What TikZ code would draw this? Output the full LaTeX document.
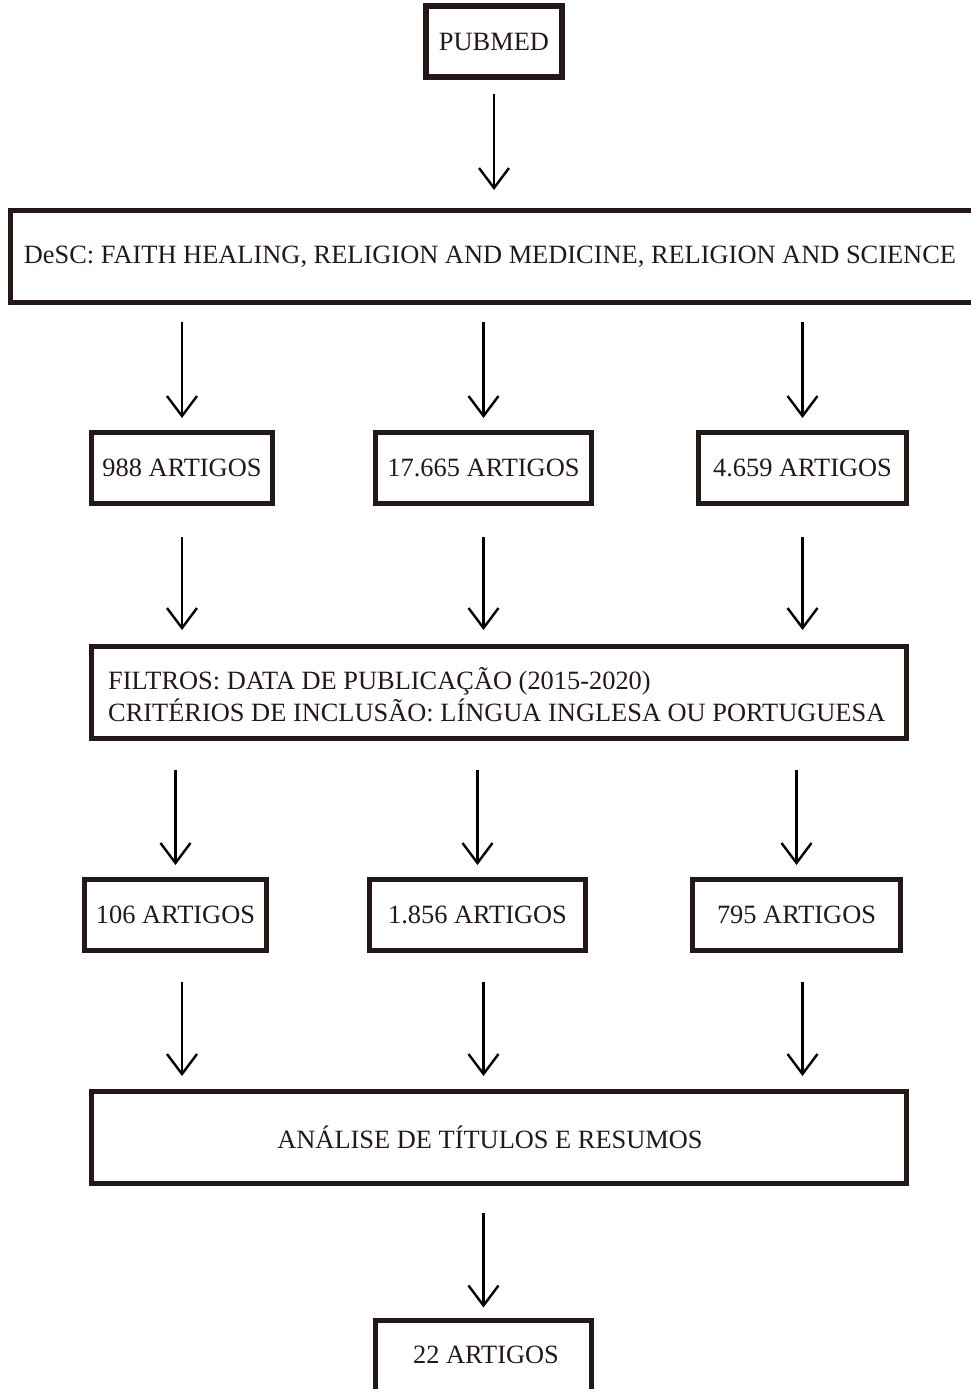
\documentclass[tikz,border=0pt]{standalone}
\usepackage{fontspec}
\setmainfont{Liberation Serif}
\usetikzlibrary{arrows.meta,calc}
\definecolor{inkbrown}{HTML}{231815}
\tikzset{
  label/.style={text=inkbrown, inner sep=0pt, font=\fontsize{26.4}{32}\selectfont},
  box/.style={label, draw=inkbrown, line width=5pt, align=center},
  flow/.style={-{Straight Barb[length=20pt,width=30pt,line width=2.4pt]}, line width=2.4pt},
}

\begin{document}
\begin{tikzpicture}[x=1pt,y=-1pt]
  \useasboundingbox (0,0) rectangle (971,1389);
  % source and search terms
  \node[box, line width=6pt, minimum width=136pt, minimum height=71pt] (pubmed) at (494,41.5) {PUBMED};
  \node[box, minimum width=968pt, minimum height=92pt] (desc) at (494,256.5) {};
  \node[label] (desctxt) at (490,257)
    {DeSC: FAITH HEALING, RELIGION AND MEDICINE, RELIGION AND SCIENCE};
  % first counts
  \node[box, minimum width=181pt, minimum height=71pt] (a988) at (182,468) {988 ARTIGOS};
  \node[box, minimum width=216pt, minimum height=71pt] (a17665) at (483.5,468) {17.665 ARTIGOS};
  \node[box, minimum width=208pt, minimum height=71pt] (a4659) at (802.5,468) {4.659 ARTIGOS};
  % filters
  \node[box, minimum width=815pt, minimum height=92pt] (filtros) at (499,692.5) {};
  \node[label, align=left, anchor=west] (filtrostxt) at (108,695)
    {FILTROS: DATA DE PUBLICAÇÃO (2015-2020)\\CRITÉRIOS DE INCLUSÃO: LÍNGUA INGLESA OU PORTUGUESA};
  % second counts
  \node[box, minimum width=182pt, minimum height=71pt] (a106) at (175.5,915) {106 ARTIGOS};
  \node[box, minimum width=216pt, minimum height=71pt] (a1856) at (477.5,915) {1.856 ARTIGOS};
  \node[box, minimum width=208pt, minimum height=71pt] (a795) at (796.5,915) {795 ARTIGOS};
  % screening and result
  \node[box, minimum width=815pt, minimum height=92pt] (analise) at (499,1137.5) {};
  \node[label] (analisetxt) at (490,1137) {ANÁLISE DE TÍTULOS E RESUMOS};
  \node[box, minimum width=216pt, minimum height=100pt] (final) at (483.5,1370) {};
  \node[label] (finaltxt) at (486,1355) {22 ARTIGOS};
  % arrows
  \draw[flow, shorten <=14pt, shorten >=18pt] (pubmed) -- (pubmed |- desc.north);
  \foreach \n in {a988,a17665,a4659}{
    \draw[flow, shorten <=17pt, shorten >=12pt] (\n |- desc.south) -- (\n.north);
    \draw[flow, shorten <=31pt, shorten >=14pt] (\n.south) -- (\n |- filtros.north);
  }
  \foreach \n in {a106,a1856,a795}{
    \draw[flow, shorten <=29pt, shorten >=12pt] (\n |- filtros.south) -- (\n.north);
  }
  \foreach \n/\m in {a106/a988,a1856/a17665,a795/a4659}{
    \draw[flow, shorten <=29pt, shorten >=13pt] (\m |- \n.south) -- (\m |- analise.north);
  }
  \draw[flow, shorten <=27pt, shorten >=10pt] (final |- analise.south) -- (final.north);
\end{tikzpicture}
\end{document}
